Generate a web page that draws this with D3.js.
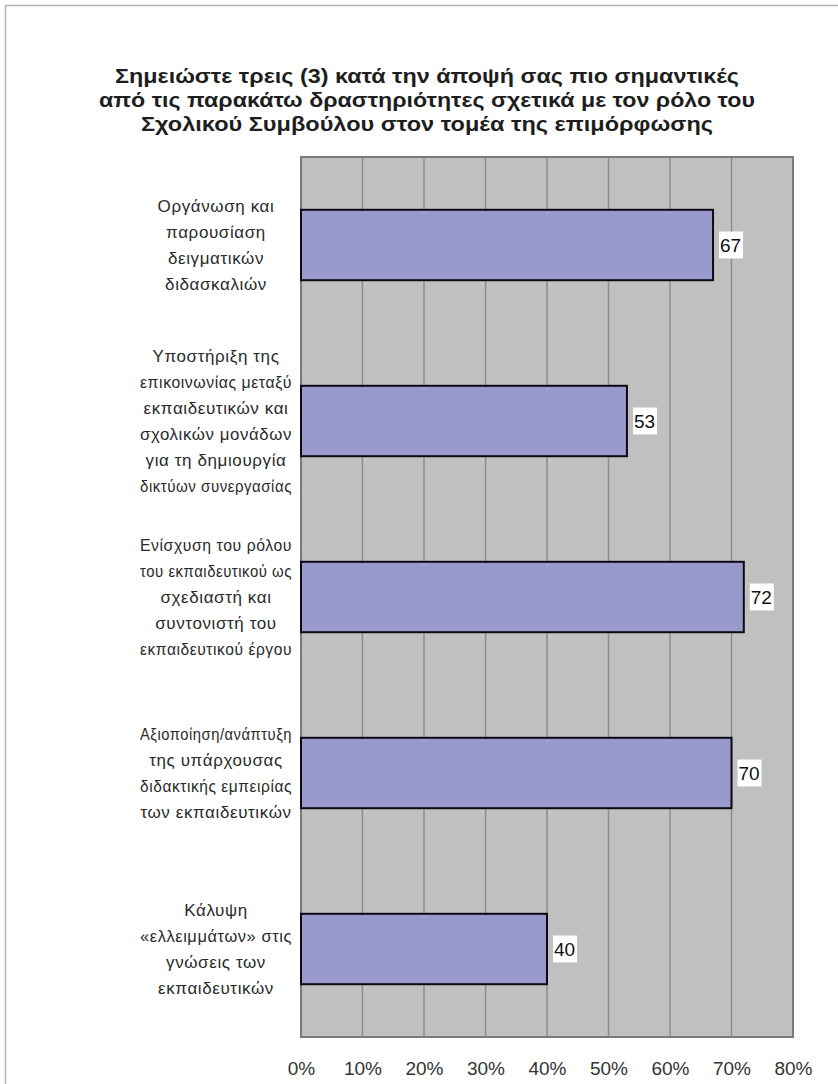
<!DOCTYPE html>
<html>
<head>
<meta charset="utf-8">
<script src="https://cdn.jsdelivr.net/npm/d3@7"></script>
<style>
  html, body { margin: 0; padding: 0; background: #fff; }
  svg { display: block; }
</style>
</head>
<body>
<svg id="chart" width="838" height="1084"></svg>
<script>
// Chart data
const titleLines = [
  "Σημειώστε τρεις (3) κατά την άποψή σας πιο σημαντικές",
  "από τις παρακάτω δραστηριότητες σχετικά με τον ρόλο του",
  "Σχολικού Συμβούλου στον τομέα της επιμόρφωσης"
];
const categories = [
  ["Οργάνωση και", "παρουσίαση", "δειγματικών", "διδασκαλιών"],
  ["Υποστήριξη της", "επικοινωνίας μεταξύ", "εκπαιδευτικών και", "σχολικών μονάδων", "για τη δημιουργία", "δικτύων συνεργασίας"],
  ["Ενίσχυση του ρόλου", "του εκπαιδευτικού ως", "σχεδιαστή και", "συντονιστή του", "εκπαιδευτικού έργου"],
  ["Αξιοποίηση/ανάπτυξη", "της υπάρχουσας", "διδακτικής εμπειρίας", "των εκπαιδευτικών"],
  ["Κάλυψη", "«ελλειμμάτων» στις", "γνώσεις των", "εκπαιδευτικών"]
];
const values = [67, 53, 72, 70, 40];
const xTicks = [0, 10, 20, 30, 40, 50, 60, 70, 80];

const svg = d3.select("#chart");
const W = 838, H = 1084;
const plot = { left: 301, right: 793, top: 157, bottom: 1037 };
const font = "Arial, 'Liberation Sans', Helvetica, sans-serif";

// Outer frame (top and left edges visible)
svg.append("path")
  .attr("d", `M5.5,${H} V5.5 H${W}`)
  .attr("fill", "none")
  .attr("stroke", "#b4b4b4")
  .attr("stroke-width", 1.5);

// Title, set in a condensed bold face
const titleW = [624, 656, 572];
svg.append("g").selectAll("text")
  .data(titleLines)
  .join("text")
  .attr("x", 427)
  .attr("y", (d, i) => 83 + i * 24)
  .attr("text-anchor", "middle")
  .attr("font-family", font)
  .attr("font-weight", "bold")
  .attr("font-size", 20.5)
  .attr("fill", "#1e1e1e")
  .attr("textLength", (d, i) => titleW[i])
  .attr("lengthAdjust", "spacingAndGlyphs")
  .text(d => d);

// Scales
const x = d3.scaleLinear().domain([0, 80]).range([plot.left, plot.right]);
const y = d3.scaleBand()
  .domain(d3.range(categories.length))
  .range([plot.top, plot.bottom])
  .paddingInner(0.6)
  .paddingOuter(0.3);

// Plot background
svg.append("rect")
  .attr("x", plot.left).attr("y", plot.top)
  .attr("width", plot.right - plot.left).attr("height", plot.bottom - plot.top)
  .attr("fill", "#c0c0c0");

// Vertical gridlines
svg.append("g").selectAll("line")
  .data(xTicks.slice(1, -1))
  .join("line")
  .attr("x1", d => x(d)).attr("x2", d => x(d))
  .attr("y1", plot.top).attr("y2", plot.bottom)
  .attr("stroke", "#8c8c8c")
  .attr("stroke-width", 1.5);

// Plot border
svg.append("rect")
  .attr("x", plot.left).attr("y", plot.top)
  .attr("width", plot.right - plot.left).attr("height", plot.bottom - plot.top)
  .attr("fill", "none")
  .attr("stroke", "#7a7a7a")
  .attr("stroke-width", 2);

// Bars
svg.append("g").selectAll("rect")
  .data(values)
  .join("rect")
  .attr("x", x(0))
  .attr("y", (d, i) => y(i))
  .attr("width", d => x(d) - x(0))
  .attr("height", y.bandwidth())
  .attr("fill", "#9999cc")
  .attr("stroke", "#0a0a14")
  .attr("stroke-width", 2);

// Value labels with white boxes
const lab = svg.append("g").selectAll("g")
  .data(values)
  .join("g")
  .attr("transform", (d, i) => `translate(${x(d) + 7},${y(i) + y.bandwidth() / 2})`);
lab.append("rect")
  .attr("x", -1).attr("y", -13.5)
  .attr("width", 24).attr("height", 27)
  .attr("fill", "#ffffff");
lab.append("text")
  .attr("x", 0).attr("y", 7)
  .attr("font-family", font)
  .attr("font-size", 19)
  .attr("fill", "#111")
  .text(d => d);

// Category labels, long lines squeezed to fit left of the plot
const maxLabelW = 152;
const lh = 26;
const cat = svg.append("g").selectAll("text")
  .data(categories)
  .join("text")
  .attr("text-anchor", "middle")
  .attr("font-family", font)
  .attr("font-size", 17)
  .attr("letter-spacing", 0.6)
  .attr("fill", "#2a2a2a");
cat.each(function(lines, i) {
  const cy = y(i) + y.bandwidth() / 2;
  const y0 = cy - (lines.length - 1) * lh / 2;
  d3.select(this).selectAll("tspan")
    .data(lines)
    .join("text")
    .remove();
  lines.forEach((line, j) => {
    const t = d3.select(this.parentNode).append("text")
      .attr("x", 216)
      .attr("y", y0 + j * lh + 6)
      .attr("text-anchor", "middle")
      .attr("font-family", font)
      .attr("font-size", 17)
      .attr("letter-spacing", 0.6)
      .attr("fill", "#2a2a2a")
      .text(line);
    const w = t.node().getComputedTextLength();
    if (w > maxLabelW) {
      t.attr("textLength", maxLabelW).attr("lengthAdjust", "spacingAndGlyphs");
    }
  });
});
cat.remove();

// X axis
const xAxis = d3.axisBottom(x)
  .tickValues(xTicks)
  .tickFormat(d => d + "%")
  .tickSize(0)
  .tickPadding(0);
const ax = svg.append("g")
  .attr("transform", `translate(0,${plot.bottom})`)
  .call(xAxis);
ax.select(".domain").remove();
ax.selectAll("text")
  .attr("y", 38)
  .attr("dy", 0)
  .attr("font-family", font)
  .attr("font-size", 19)
  .attr("fill", "#333");
</script>
</body>
</html>
